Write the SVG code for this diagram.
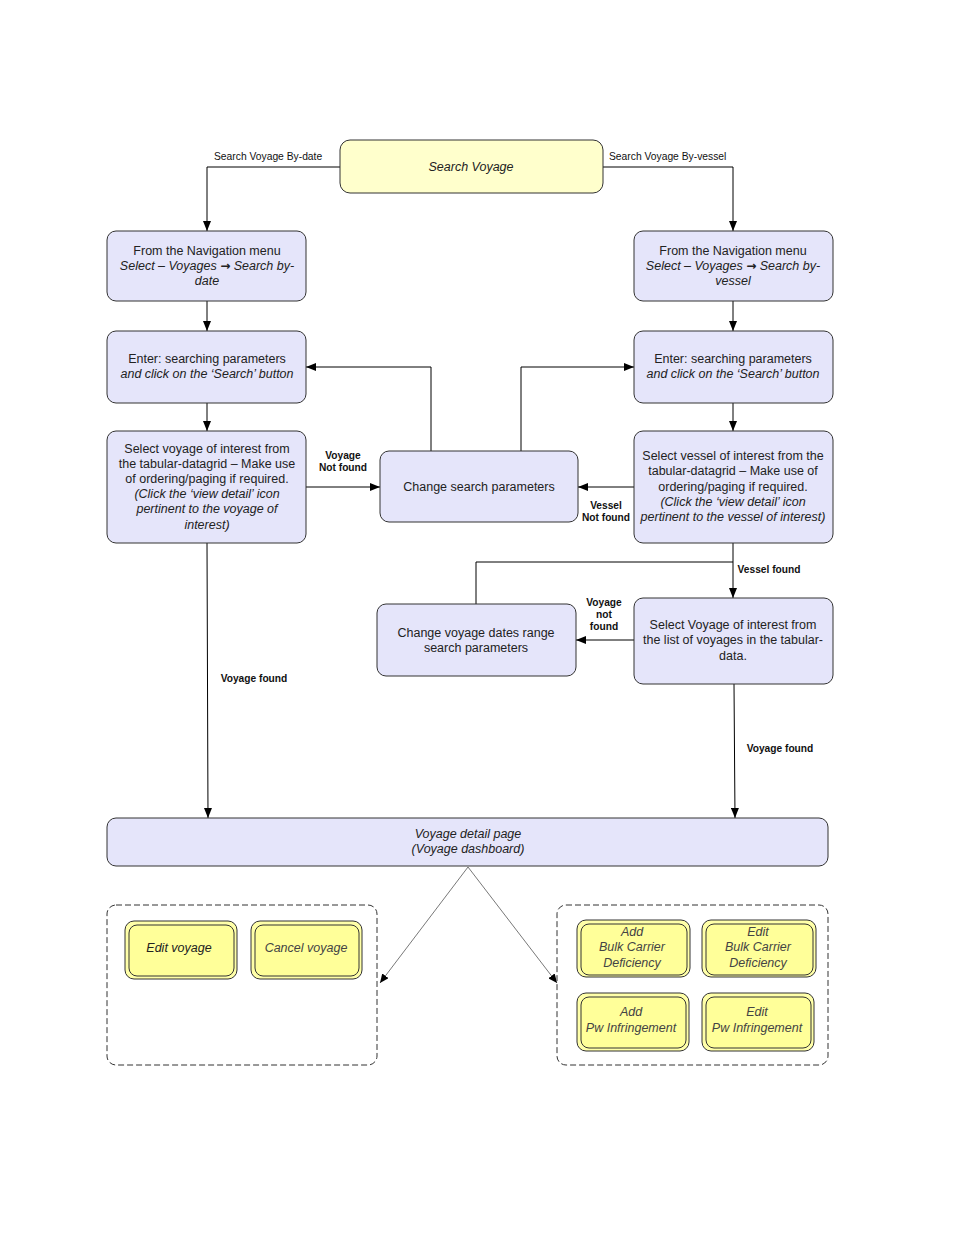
<svg xmlns="http://www.w3.org/2000/svg" width="954" height="1235" viewBox="0 0 954 1235">
<defs>
<marker id="arr" markerWidth="10" markerHeight="8" refX="10" refY="4" orient="auto" markerUnits="userSpaceOnUse">
<path d="M0,0 L10,4 L0,8 Z" fill="#000"/>
</marker>
<marker id="arrs" markerWidth="9" markerHeight="8" refX="9" refY="4" orient="auto" markerUnits="userSpaceOnUse">
<path d="M0,0 L9,4 L0,8 Z" fill="#000"/>
</marker>
<style>
.node{fill:#E5E5FA;stroke:#333;stroke-width:1}
.start{fill:#FFFFCC;stroke:#333;stroke-width:1}
.yo{fill:#FFFFA8;stroke:#333;stroke-width:1}
.yi{fill:#FFFF99;stroke:#333;stroke-width:1}
.cont{fill:none;stroke:#333;stroke-width:1;stroke-dasharray:6,3}
.t{font-family:"Liberation Sans",Arial,sans-serif;font-size:12.5px;fill:#222;text-anchor:middle}
.i{font-style:italic}
.ar{font-family:"DejaVu Sans",sans-serif;font-style:normal;font-weight:bold;font-size:12px}
.lb{font-family:"Liberation Sans",Arial,sans-serif;font-size:10.3px;fill:#111}
.bl{font-family:"Liberation Sans",Arial,sans-serif;font-size:10.2px;font-weight:bold;fill:#111;text-anchor:middle}
.c{fill:none;stroke:#000;stroke-width:1}
.d{fill:none;stroke:#555;stroke-width:0.8}
</style>
</defs>
<rect width="954" height="1235" fill="#fff"/>

<g id="connectors">
<polyline class="c" points="340,167 207,167 207,231" marker-end="url(#arr)"/>
<polyline class="c" points="603,167 733,167 733,231" marker-end="url(#arr)"/>
<line class="c" x1="207" y1="301" x2="207" y2="331" marker-end="url(#arr)"/>
<line class="c" x1="733" y1="301" x2="733" y2="331" marker-end="url(#arr)"/>
<line class="c" x1="207" y1="403" x2="207" y2="431" marker-end="url(#arr)"/>
<line class="c" x1="733" y1="403" x2="733" y2="431" marker-end="url(#arr)"/>
<line class="c" x1="306" y1="487" x2="380" y2="487" marker-end="url(#arr)"/>
<polyline class="c" points="431,451 431,367 306,367" marker-end="url(#arr)"/>
<polyline class="c" points="521,451 521,367 634,367" marker-end="url(#arr)"/>
<line class="c" x1="634" y1="487" x2="578" y2="487" marker-end="url(#arr)"/>
<line class="c" x1="733" y1="543" x2="733" y2="598" marker-end="url(#arr)"/>
<polyline class="c" points="476,604 476,562 733,562"/>
<line class="c" x1="634" y1="640" x2="576" y2="640" marker-end="url(#arr)"/>
<line class="c" x1="207" y1="543" x2="208" y2="818" marker-end="url(#arr)"/>
<line class="c" x1="734" y1="684" x2="735" y2="818" marker-end="url(#arr)"/>
<line class="d" x1="468" y1="867" x2="380" y2="983" marker-end="url(#arrs)"/>
<line class="d" x1="468" y1="867" x2="557" y2="983" marker-end="url(#arrs)"/>
<text class="lb" x="214" y="160">Search Voyage By-date</text>
<text class="lb" x="609" y="160">Search Voyage By-vessel</text>
<text class="bl" x="343" y="459">Voyage</text>
<text class="bl" x="343" y="471">Not found</text>
<text class="bl" x="606" y="509">Vessel</text>
<text class="bl" x="606" y="521">Not found</text>
<text class="bl" x="769" y="573">Vessel found</text>
<text class="bl" x="604" y="606">Voyage</text>
<text class="bl" x="604" y="618">not</text>
<text class="bl" x="604" y="630">found</text>
<text class="bl" x="254" y="682">Voyage found</text>
<text class="bl" x="780" y="752">Voyage found</text>
</g>

<g id="search-voyage">
<rect class="start" x="340" y="140" width="263" height="53" rx="10"/>
<text class="t i" x="471" y="171">Search Voyage</text>
</g>

<g id="nav-date">
<rect class="node" x="107" y="231" width="199" height="70" rx="9"/>
<text class="t" x="207" y="255">From the Navigation menu</text>
<text class="t i" x="207" y="270">Select – Voyages <tspan class="ar">→</tspan> Search by-</text>
<text class="t i" x="207" y="285">date</text>
</g>

<g id="nav-vessel">
<rect class="node" x="634" y="231" width="199" height="70" rx="9"/>
<text class="t" x="733" y="255">From the Navigation menu</text>
<text class="t i" x="733" y="270">Select – Voyages <tspan class="ar">→</tspan> Search by-</text>
<text class="t i" x="733" y="285">vessel</text>
</g>

<g id="enter-date">
<rect class="node" x="107" y="331" width="199" height="72" rx="9"/>
<text class="t" x="207" y="363">Enter: searching parameters</text>
<text class="t i" x="207" y="378">and click on the ‘Search’ button</text>
</g>

<g id="enter-vessel">
<rect class="node" x="634" y="331" width="199" height="72" rx="9"/>
<text class="t" x="733" y="363">Enter: searching parameters</text>
<text class="t i" x="733" y="378">and click on the ‘Search’ button</text>
</g>

<g id="select-voyage-date">
<rect class="node" x="107" y="431" width="199" height="112" rx="9"/>
<text class="t" x="207" y="453">Select voyage of interest from</text>
<text class="t" x="207" y="468">the tabular-datagrid – Make use</text>
<text class="t" x="207" y="483">of ordering/paging if required.</text>
<text class="t i" x="207" y="498">(Click the ‘view detail’ icon</text>
<text class="t i" x="207" y="513">pertinent to the voyage of</text>
<text class="t i" x="207" y="529">interest)</text>
</g>

<g id="change-search">
<rect class="node" x="380" y="451" width="198" height="71" rx="9"/>
<text class="t" x="479" y="491">Change search parameters</text>
</g>

<g id="select-vessel">
<rect class="node" x="634" y="431" width="199" height="112" rx="9"/>
<text class="t" x="733" y="460">Select vessel of interest from the</text>
<text class="t" x="733" y="475">tabular-datagrid – Make use of</text>
<text class="t" x="733" y="491">ordering/paging if required.</text>
<text class="t i" x="733" y="506">(Click the ‘view detail’ icon</text>
<text class="t i" x="733" y="521">pertinent to the vessel of interest)</text>
</g>

<g id="change-dates">
<rect class="node" x="377" y="604" width="199" height="72" rx="9"/>
<text class="t" x="476" y="637">Change voyage dates range</text>
<text class="t" x="476" y="652">search parameters</text>
</g>

<g id="select-voyage-vessel">
<rect class="node" x="634" y="598" width="199" height="86" rx="9"/>
<text class="t" x="733" y="629">Select Voyage of interest from</text>
<text class="t" x="733" y="644">the list of voyages in the tabular-</text>
<text class="t" x="733" y="660">data.</text>
</g>

<g id="voyage-detail">
<rect class="node" x="107" y="818" width="721" height="48" rx="9"/>
<text class="t i" x="468" y="838">Voyage detail page</text>
<text class="t i" x="468" y="853">(Voyage dashboard)</text>
</g>

<g id="container-left">
<rect class="cont" x="107" y="905" width="270" height="160" rx="9"/>
</g>
<g id="container-right">
<rect class="cont" x="557" y="905" width="271" height="160" rx="9"/>
</g>

<g id="edit-voyage">
<rect class="yo" x="125" y="921" width="112" height="58" rx="9"/>
<rect class="yi" x="129" y="925" width="105" height="51" rx="8"/>
<text class="t i" x="179" y="952">Edit voyage</text>
</g>
<g id="cancel-voyage">
<rect class="yo" x="251" y="921" width="111" height="58" rx="9"/>
<rect class="yi" x="255" y="925" width="104" height="51" rx="8"/>
<text class="t i" x="306" y="952" style="fill:#444">Cancel voyage</text>
</g>
<g id="add-bulk">
<rect class="yo" x="577" y="920" width="113" height="57" rx="9"/>
<rect class="yi" x="581" y="924" width="106" height="51" rx="8"/>
<text class="t i" x="632" y="936" style="fill:#444">Add</text>
<text class="t i" x="632" y="951" style="fill:#444">Bulk Carrier</text>
<text class="t i" x="632" y="967" style="fill:#444">Deficiency</text>
</g>
<g id="edit-bulk">
<rect class="yo" x="702" y="920" width="114" height="57" rx="9"/>
<rect class="yi" x="706" y="924" width="107" height="51" rx="8"/>
<text class="t i" x="758" y="936" style="fill:#444">Edit</text>
<text class="t i" x="758" y="951" style="fill:#444">Bulk Carrier</text>
<text class="t i" x="758" y="967" style="fill:#444">Deficiency</text>
</g>
<g id="add-pw">
<rect class="yo" x="577" y="993" width="112" height="58" rx="9"/>
<rect class="yi" x="581" y="997" width="105" height="51" rx="8"/>
<text class="t i" x="631" y="1016" style="fill:#444">Add</text>
<text class="t i" x="631" y="1032" style="fill:#444">Pw Infringement</text>
</g>
<g id="edit-pw">
<rect class="yo" x="702" y="993" width="112" height="58" rx="9"/>
<rect class="yi" x="706" y="997" width="105" height="51" rx="8"/>
<text class="t i" x="757" y="1016" style="fill:#444">Edit</text>
<text class="t i" x="757" y="1032" style="fill:#444">Pw Infringement</text>
</g>
</svg>
